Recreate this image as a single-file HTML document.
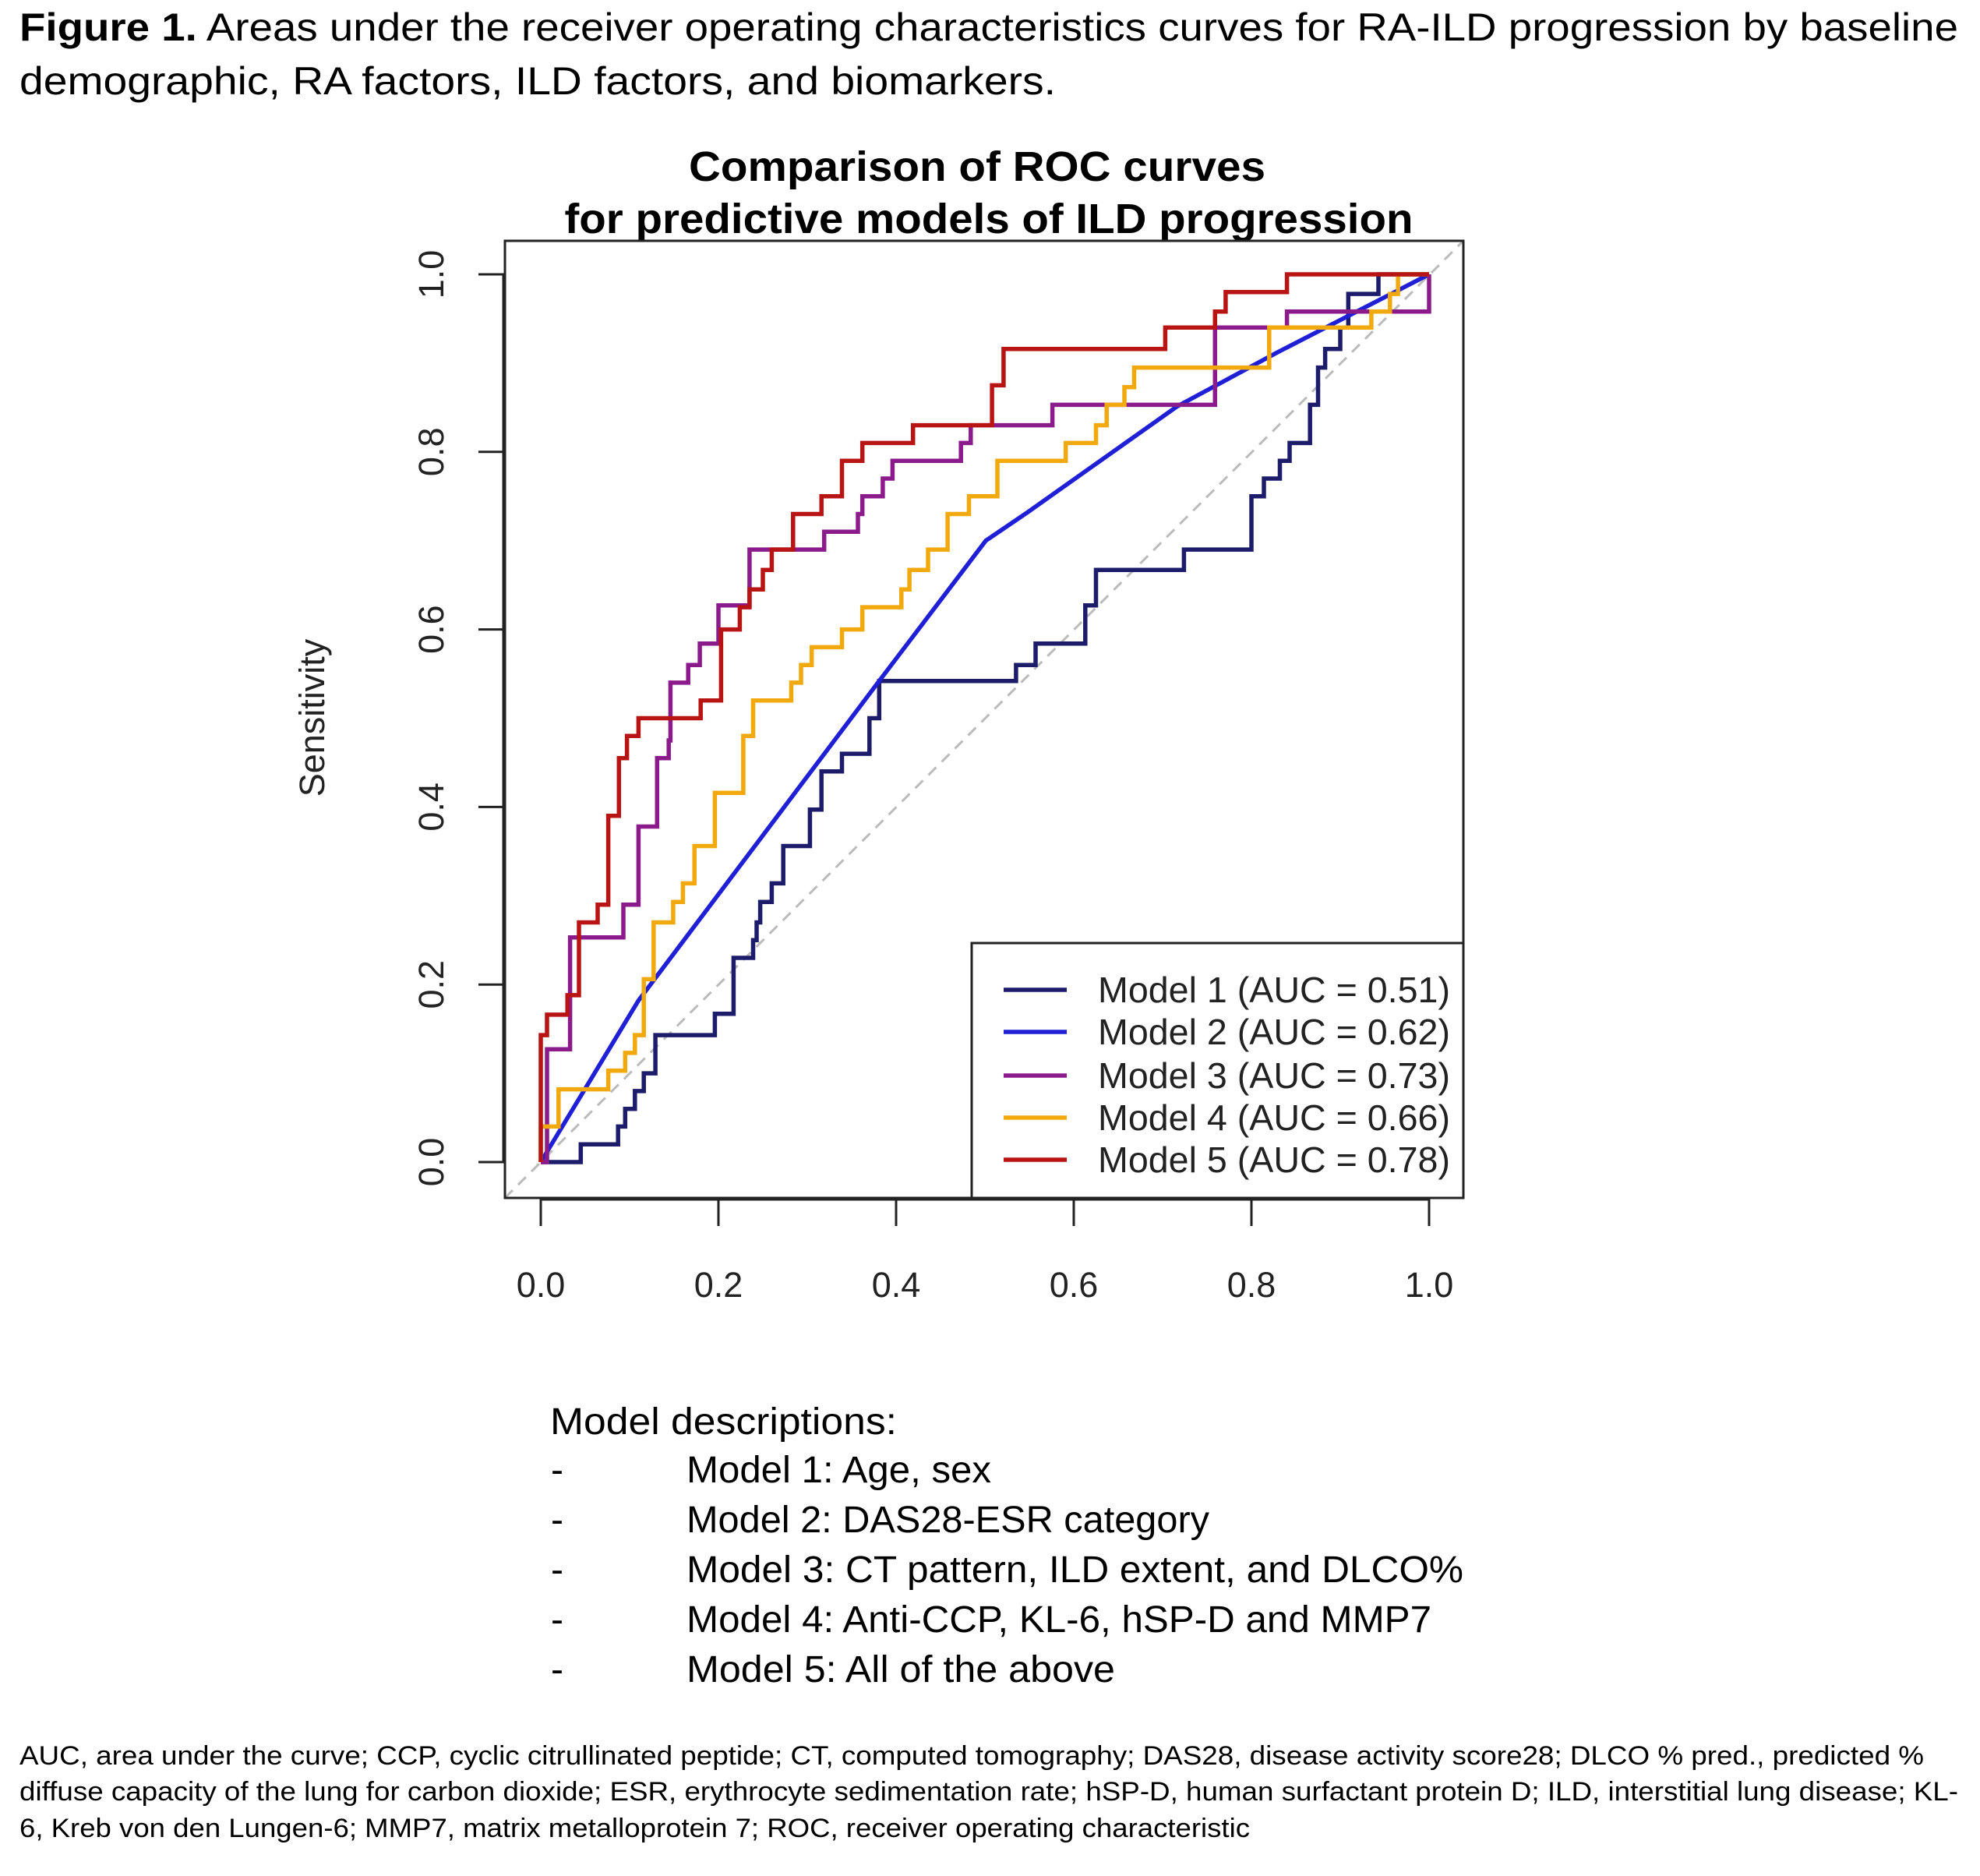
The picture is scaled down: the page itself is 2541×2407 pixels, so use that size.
<!DOCTYPE html>
<html><head><meta charset="utf-8"><style>
html,body{margin:0;padding:0;background:#fff;}
svg{display:block;font-family:"Liberation Sans",Arial,sans-serif;}
</style></head><body>
<svg id="fig" width="2541" height="2407" viewBox="0 0 2541 2407" xmlns="http://www.w3.org/2000/svg">
<text x="25" y="52" font-size="50" textLength="2488" lengthAdjust="spacingAndGlyphs"><tspan font-weight="bold">Figure 1.</tspan> Areas under the receiver operating characteristics curves for RA-ILD progression by baseline</text>
<text x="25" y="121" font-size="50" textLength="1330" lengthAdjust="spacingAndGlyphs">demographic, RA factors, ILD factors, and biomarkers.</text>
<text x="1254" y="232" font-size="54" font-weight="bold" text-anchor="middle" textLength="740" lengthAdjust="spacingAndGlyphs">Comparison of ROC curves</text>
<text x="1269" y="299" font-size="54" font-weight="bold" text-anchor="middle" textLength="1089" lengthAdjust="spacingAndGlyphs">for predictive models of ILD progression</text>
<g id="plot"></g>
<text x="416" y="921" font-size="45" text-anchor="middle" transform="rotate(-90 416 921)" fill="#222">Sensitivity</text>
<g font-size="48">
<text x="706" y="1840" textLength="445" lengthAdjust="spacingAndGlyphs">Model descriptions:</text>
<text x="707" y="1902">-</text>
<text x="881" y="1902" textLength="391" lengthAdjust="spacingAndGlyphs">Model 1: Age, sex</text>
<text x="707" y="1966">-</text>
<text x="881" y="1966" textLength="671" lengthAdjust="spacingAndGlyphs">Model 2: DAS28-ESR category</text>
<text x="707" y="2030">-</text>
<text x="881" y="2030" textLength="997" lengthAdjust="spacingAndGlyphs">Model 3: CT pattern, ILD extent, and DLCO%</text>
<text x="707" y="2094">-</text>
<text x="881" y="2094" textLength="956" lengthAdjust="spacingAndGlyphs">Model 4: Anti-CCP, KL-6, hSP-D and MMP7</text>
<text x="707" y="2158">-</text>
<text x="881" y="2158" textLength="550" lengthAdjust="spacingAndGlyphs">Model 5: All of the above</text>
</g>
<g font-size="34">
<text x="25" y="2264" textLength="2444" lengthAdjust="spacingAndGlyphs">AUC, area under the curve; CCP, cyclic citrullinated peptide; CT, computed tomography; DAS28, disease activity score28; DLCO % pred., predicted %</text>
<text x="25" y="2310" textLength="2488" lengthAdjust="spacingAndGlyphs">diffuse capacity of the lung for carbon dioxide; ESR, erythrocyte sedimentation rate; hSP-D, human surfactant protein D; ILD, interstitial lung disease; KL-</text>
<text x="25" y="2357" textLength="1579" lengthAdjust="spacingAndGlyphs">6, Kreb von den Lungen-6; MMP7, matrix metalloprotein 7; ROC, receiver operating characteristic</text>
</g>
</svg>
<script>
const ticks = [0, 0.2, 0.4, 0.6, 0.8, 1.0];
const tickLabels = ["0.0", "0.2", "0.4", "0.6", "0.8", "1.0"];
const modelNames = ["Model 1 (AUC = 0.51)", "Model 2 (AUC = 0.62)", "Model 3 (AUC = 0.73)", "Model 4 (AUC = 0.66)", "Model 5 (AUC = 0.78)"];
const modelColors = ["#1c1c6b", "#1f1fd6", "#8b1a8b", "#f2a90d", "#b81414"];
// Step curves: at FPR stepX[i] the sensitivity rises to stepY[i]
const m1x = [0.045,0.087,0.095,0.106,0.116,0.129,0.196,0.217,0.239,0.243,0.247,0.26,0.273,0.303,0.316,0.339,0.370,0.381,0.535,0.557,0.613,0.625,0.724,0.80,0.814,0.832,0.843,0.866,0.875,0.883,0.900,0.909,0.943];
const m1y = [0.02,0.04,0.06,0.08,0.10,0.143,0.167,0.23,0.25,0.27,0.293,0.314,0.356,0.397,0.44,0.46,0.50,0.542,0.56,0.584,0.627,0.667,0.69,0.75,0.77,0.79,0.81,0.853,0.895,0.916,0.94,0.978,1];
// Model 2 is a smooth polyline
const m2x = [0,0.110,0.381,0.501,0.548,0.716,0.827,1];
const m2y = [0,0.182,0.542,0.700,0.732,0.851,0.911,1];
const m3x = [0.007,0.033,0.093,0.110,0.131,0.144,0.146,0.166,0.179,0.200,0.235,0.319,0.357,0.362,0.385,0.396,0.473,0.484,0.576,0.759,0.84,1];
const m3y = [0.127,0.253,0.29,0.378,0.455,0.475,0.54,0.56,0.584,0.627,0.69,0.71,0.73,0.75,0.77,0.79,0.81,0.83,0.853,0.94,0.958,1];
const m4x = [0,0.020,0.076,0.095,0.106,0.116,0.127,0.149,0.160,0.173,0.196,0.228,0.239,0.282,0.293,0.305,0.339,0.362,0.406,0.415,0.436,0.458,0.482,0.514,0.591,0.625,0.637,0.657,0.668,0.820,0.935,0.956,0.965];
const m4y = [0.04,0.082,0.103,0.123,0.143,0.206,0.27,0.293,0.314,0.356,0.416,0.48,0.52,0.54,0.56,0.58,0.60,0.625,0.645,0.667,0.69,0.73,0.75,0.79,0.81,0.83,0.853,0.873,0.895,0.94,0.958,0.978,1];
const m5x = [0,0.007,0.030,0.043,0.064,0.076,0.088,0.097,0.110,0.180,0.203,0.224,0.235,0.250,0.260,0.284,0.316,0.339,0.362,0.419,0.508,0.521,0.703,0.759,0.771,0.840];
const m5y = [0.143,0.166,0.188,0.27,0.29,0.39,0.455,0.48,0.50,0.52,0.60,0.625,0.645,0.667,0.69,0.73,0.75,0.79,0.81,0.83,0.875,0.916,0.94,0.958,0.98,1];

const NS = "http://www.w3.org/2000/svg";
const X0 = 694, X1 = 1834, Y0 = 1491, Y1 = 352;
const BOX = {l:648, r:1878, t:309, b:1537};
function sx(v){ return X0 + v*(X1-X0); }
function sy(v){ return Y0 - v*(Y0-Y1); }
const g = document.getElementById('plot');
function mk(tag, attrs, parent){
  const e = document.createElementNS(NS, tag);
  for (const k in attrs) e.setAttribute(k, attrs[k]);
  (parent||g).appendChild(e);
  return e;
}
function stepPoints(xa, ya){
  const pts = [[0,0]];
  let prev = 0;
  xa.forEach((x,i)=>{ pts.push([x,prev]); pts.push([x,ya[i]]); prev = ya[i]; });
  pts.push([1,prev]);
  return pts;
}
let d = mk('line', {x1:BOX.l, y1:BOX.b, x2:BOX.r, y2:BOX.t, stroke:'#bbbbbb', 'stroke-width':3, 'stroke-dasharray':'14 10'});


let xa = mk('line', {x1:sx(0), y1:BOX.b+2, x2:sx(1), y2:BOX.b+2, stroke:'#222', 'stroke-width':3});


ticks.forEach((t,i)=>{
  let tk = mk('line', {x1:sx(t), y1:BOX.b, x2:sx(t), y2:BOX.b+36, stroke:'#222', 'stroke-width':3});
  
  
  let tl = mk('text', {x:sx(t), y:1664, 'font-size':45, 'text-anchor':'middle', fill:'#222'});
  tl.textContent = tickLabels[i];
  
  
  let yk = mk('line', {x1:BOX.l-34, y1:sy(t), x2:BOX.l, y2:sy(t), stroke:'#222', 'stroke-width':3});
  
  
  let yl = mk('text', {x:569, y:sy(t), 'font-size':45, 'text-anchor':'middle', fill:'#222', transform:'rotate(-90 569 '+sy(t)+')'});
  yl.textContent = tickLabels[i];
  
  
});
let ya = mk('line', {x1:BOX.l-2, y1:sy(0), x2:BOX.l-2, y2:sy(1), stroke:'#222', 'stroke-width':3});


const curves = [
  stepPoints(m1x, m1y),
  m2x.map((x,j)=>[x, m2y[j]]),
  stepPoints(m3x, m3y),
  stepPoints(m4x, m4y),
  stepPoints(m5x, m5y)
];
curves.forEach((c,i)=>{
  const pts = c.map(p=> sx(p[0]).toFixed(1)+','+sy(p[1]).toFixed(1)).join(' ');
  let pl = mk('polyline', {points:pts, fill:'none', stroke:modelColors[i], 'stroke-width':5.5, 'stroke-linejoin':'miter'});
  
  
});
let bx = mk('rect', {x:BOX.l, y:BOX.t, width:BOX.r-BOX.l, height:BOX.b-BOX.t, fill:'none', stroke:'#222', 'stroke-width':3});


const lg = mk('g', {});


mk('rect', {x:1247, y:1210, width:BOX.r-1247, height:BOX.b-1210, fill:'#fff', stroke:'#222', 'stroke-width':3}, lg);
const rowY = [1270, 1324, 1380, 1434, 1488];
modelNames.forEach((n,i)=>{
  const e = mk('g', {}, lg);
  
  
  mk('line', {x1:1288, y1:rowY[i], x2:1369, y2:rowY[i], stroke:modelColors[i], 'stroke-width':5.5}, e);
  const t = mk('text', {x:1409, y:rowY[i]+16, 'font-size':46, fill:'#222', textLength:452, lengthAdjust:'spacingAndGlyphs'}, e);
  t.textContent = n;
});
</script>
</body></html>
